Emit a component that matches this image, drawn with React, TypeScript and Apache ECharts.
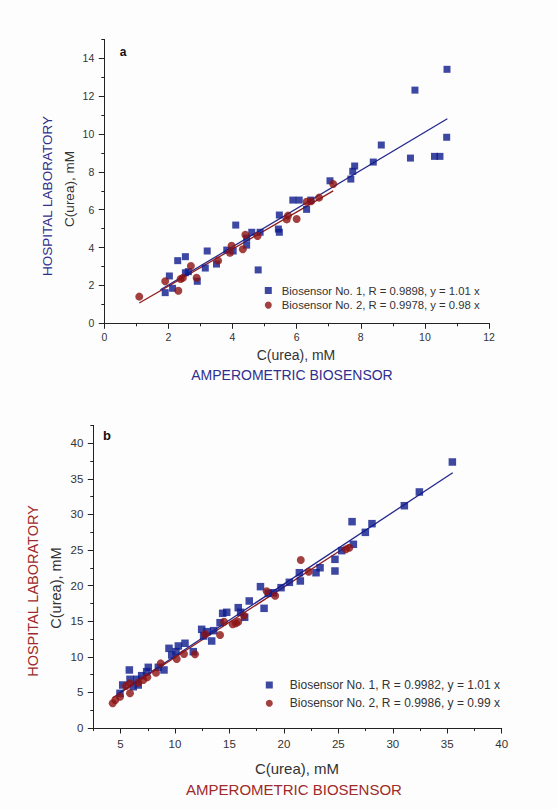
import React, { useEffect, useRef } from "react";
import * as echarts from "echarts";

// ---- Data ----
// Panel a
const blueA: number[][] = [
  [1.9, 1.62], [2.03, 2.5], [2.13, 1.85], [2.29, 3.31], [2.53, 3.52], [2.53, 2.67],
  [2.62, 2.73], [2.9, 2.22], [3.15, 2.92], [3.21, 3.82], [3.5, 3.13], [3.82, 3.87],
  [4.02, 3.82], [4.1, 5.19], [4.44, 4.13], [4.44, 4.5], [4.6, 4.81], [4.8, 2.82],
  [4.86, 4.81], [5.43, 4.98], [5.46, 4.81], [5.46, 5.72], [5.88, 6.51], [6.08, 6.51],
  [6.31, 6.02], [6.44, 6.51], [7.04, 7.53], [7.69, 7.62], [7.75, 8.03], [7.81, 8.31],
  [8.39, 8.52], [8.64, 9.42], [9.55, 8.73], [9.69, 12.32], [10.3, 8.82], [10.47, 8.82],
  [10.68, 9.83], [10.69, 13.42],
];
const redA: number[][] = [
  [1.09, 1.41], [1.9, 2.22], [2.31, 1.72], [2.38, 2.34], [2.45, 2.4], [2.7, 3.03],
  [2.88, 2.41], [3.55, 3.31], [3.92, 3.73], [3.97, 4.1], [4.32, 3.91], [4.4, 4.68],
  [4.78, 4.61], [5.73, 5.69], [5.69, 5.49], [6.0, 5.51], [6.31, 6.42], [6.45, 6.45],
  [6.7, 6.64], [7.14, 7.36],
];
const fitBlueA: number[][] = [[1.75, 1.77], [10.7, 10.81]];
const fitRedA: number[][] = [[1.09, 1.07], [7.14, 7.0]];

// Panel b
const blueB: number[][] = [
  [4.95, 4.87], [5.2, 6.04], [5.81, 8.15], [5.87, 6.84], [6.17, 5.8], [6.49, 6.84],
  [6.63, 6.04], [6.94, 7.35], [7.4, 7.91], [7.55, 8.52], [8.47, 8.52], [8.99, 8.15],
  [9.45, 11.19], [9.7, 10.25], [10.09, 10.72], [10.31, 11.52], [10.92, 11.9], [11.68, 10.72],
  [12.45, 13.86], [12.63, 12.92], [12.95, 13.53], [13.37, 12.22], [13.55, 13.67], [14.14, 14.79],
  [14.38, 16.11], [14.75, 16.25], [15.81, 16.9], [16.03, 16.25], [16.4, 15.55], [16.82, 17.84],
  [17.85, 19.85], [18.18, 16.81], [18.57, 18.91], [19.03, 19.0], [19.74, 19.71], [20.5, 20.46],
  [21.42, 21.81], [21.51, 20.65], [22.95, 21.81], [23.32, 22.51], [24.69, 23.69], [24.69, 22.05],
  [25.31, 24.91], [26.38, 25.8], [26.26, 28.98], [27.48, 27.48], [28.09, 28.7], [31.06, 31.22],
  [32.44, 33.15], [35.47, 37.36],
];
const redB: number[][] = [
  [4.28, 3.47], [4.52, 3.93], [4.95, 4.4], [5.5, 5.9], [5.87, 4.87], [5.87, 6.27],
  [6.63, 6.36], [7.09, 6.74], [7.46, 7.12], [8.26, 7.77], [8.69, 9.08], [10.16, 9.69],
  [10.83, 10.39], [11.84, 10.35], [12.76, 13.16], [14.14, 13.06], [14.5, 14.93], [15.3, 14.56],
  [15.6, 14.7], [15.81, 14.93], [16.34, 15.77], [18.42, 19.2], [19.2, 18.58], [21.55, 23.6],
  [22.28, 21.95], [25.7, 25.1], [26.0, 25.32],
];
const fitBlueB: number[][] = [[4.7, 4.75], [35.5, 35.86]];
const fitRedB: number[][] = [[4.28, 4.24], [26.0, 25.74]];

// Axis ticks
const xMajorA = [0, 2, 4, 6, 8, 10, 12];
const yMajorA = [0, 2, 4, 6, 8, 10, 12, 14];
const xMajorB = [5, 10, 15, 20, 25, 30, 35, 40];
const yMajorB = [0, 5, 10, 15, 20, 25, 30, 35, 40];

const nameBlueA = "Biosensor No. 1, R = 0.9898, y = 1.01 x";
const nameRedA = "Biosensor No. 2, R = 0.9978, y = 0.98 x";
const nameBlueB = "Biosensor No. 1, R = 0.9982, y = 1.01 x";
const nameRedB = "Biosensor No. 2, R = 0.9986, y = 0.99 x";

const FONT = "'Liberation Sans', Arial, sans-serif";
const BLUE = "#0d1a8c";
const RED = "#8c1212";
const BLUE_LINE = "#23288a";
const RED_LINE = "#8e1d1d";
const BLUE_TXT = "#2f2f8f";
const RED_TXT = "#9e2a2a";
const AX = "#222";

function mainAxis(grid: number, min: number, max: number, step: number, majors: number[], fs: number, margin: number) {
  return {
    type: "value",
    gridIndex: grid,
    min,
    max,
    interval: step,
    axisLine: { show: true, onZero: false, lineStyle: { color: AX, width: 1 } },
    axisTick: { show: true, length: 3, lineStyle: { color: AX, width: 1 } },
    axisLabel: {
      show: true,
      color: "#333",
      fontSize: fs,
      fontFamily: FONT,
      margin,
      hideOverlap: false,
      showMinLabel: true,
      showMaxLabel: true,
      formatter: (v: number) => (majors.indexOf(v) >= 0 ? String(v) : ""),
    },
    splitLine: { show: false },
  };
}

function overlayAxis(grid: number, min: number, max: number, step: number, majors: number[]) {
  return {
    type: "value",
    gridIndex: grid,
    min,
    max,
    interval: step,
    offset: 0,
    axisLine: { show: false, onZero: false },
    axisTick: { show: true, length: 5.5, customValues: majors, lineStyle: { color: AX, width: 1 } },
    axisLabel: { show: false },
    splitLine: { show: false },
  };
}

export default function App() {
  const ref = useRef<HTMLDivElement>(null);
  useEffect(() => {
    if (!ref.current) return;
    const chart = echarts.init(ref.current, undefined, { renderer: "svg" });
    const option: any = {
      animation: false,
      backgroundColor: "#fdfdfd",
      grid: [
        { left: 104.3, top: 39.4, width: 384.7, height: 283.9, containLabel: false },
        { left: 93.3, top: 425.4, width: 408.4, height: 302.6, containLabel: false },
      ],
      xAxis: [
        { ...mainAxis(0, 0, 12, 1, xMajorA, 10.5, 8), position: "bottom" },
        { ...overlayAxis(0, 0, 12, 1, xMajorA), position: "bottom" },
        { ...mainAxis(1, 2.5, 40, 2.5, xMajorB, 11.5, 10), position: "bottom" },
        { ...overlayAxis(1, 2.5, 40, 2.5, xMajorB), position: "bottom" },
      ],
      yAxis: [
        { ...mainAxis(0, 0, 15, 1, yMajorA, 10.5, 10), position: "left" },
        { ...overlayAxis(0, 0, 15, 1, yMajorA), position: "left" },
        { ...mainAxis(1, 0, 42.5, 2.5, yMajorB, 11.5, 10), position: "left" },
        { ...overlayAxis(1, 0, 42.5, 2.5, yMajorB), position: "left" },
      ],
      legend: [
        {
          data: [
            { name: nameBlueA, icon: "rect" },
            { name: nameRedA, icon: "circle" },
          ],
          orient: "vertical",
          left: 264.8,
          top: 284.5,
          itemWidth: 7,
          itemHeight: 7,
          itemGap: 2.6,
          padding: 0,
          selectedMode: false,
          textStyle: { fontSize: 11.3, fontFamily: FONT, color: "#333", lineHeight: 12, padding: [0, 0, 0, 5] },
        },
        {
          data: [
            { name: nameBlueB, icon: "rect" },
            { name: nameRedB, icon: "circle" },
          ],
          orient: "vertical",
          left: 265.8,
          top: 678.5,
          itemWidth: 7,
          itemHeight: 7,
          itemGap: 5.3,
          padding: 0,
          selectedMode: false,
          textStyle: { fontSize: 12, fontFamily: FONT, color: "#333", lineHeight: 13, padding: [0, 0, 0, 12] },
        },
      ],
      series: [
        {
          type: "line", xAxisIndex: 0, yAxisIndex: 0, data: fitBlueA, symbol: "none",
          lineStyle: { color: BLUE_LINE, width: 1.3 }, silent: true, z: 1,
        },
        {
          type: "line", xAxisIndex: 0, yAxisIndex: 0, data: fitRedA, symbol: "none",
          lineStyle: { color: RED_LINE, width: 1.3 }, silent: true, z: 1,
        },
        {
          name: nameBlueA, type: "scatter", xAxisIndex: 0, yAxisIndex: 0, data: blueA,
          symbol: "rect", symbolSize: 7, itemStyle: { color: BLUE }, z: 2,
        },
        {
          name: nameRedA, type: "scatter", xAxisIndex: 0, yAxisIndex: 0, data: redA,
          symbol: "circle", symbolSize: 8, itemStyle: { color: RED }, z: 3,
        },
        {
          type: "line", xAxisIndex: 2, yAxisIndex: 2, data: fitBlueB, symbol: "none",
          lineStyle: { color: BLUE_LINE, width: 1.3 }, silent: true, z: 1,
        },
        {
          type: "line", xAxisIndex: 2, yAxisIndex: 2, data: fitRedB, symbol: "none",
          lineStyle: { color: RED_LINE, width: 1.3 }, silent: true, z: 1,
        },
        {
          name: nameBlueB, type: "scatter", xAxisIndex: 2, yAxisIndex: 2, data: blueB,
          symbol: "rect", symbolSize: 7.5, itemStyle: { color: BLUE }, z: 2,
        },
        {
          name: nameRedB, type: "scatter", xAxisIndex: 2, yAxisIndex: 2, data: redB,
          symbol: "circle", symbolSize: 8, itemStyle: { color: RED }, z: 3,
        },
      ],
      graphic: [
        { type: "text", x: 123, y: 52, style: { text: "a", font: `bold 12px ${FONT}`, fill: "#111", align: "center", verticalAlign: "middle" } },
        { type: "text", x: 107, y: 435, style: { text: "b", font: `bold 13px ${FONT}`, fill: "#111", align: "center", verticalAlign: "middle" } },
        // panel a axis titles
        { type: "text", x: 47, y: 196, rotation: Math.PI / 2, style: { text: "HOSPITAL LABORATORY", font: `13.5px ${FONT}`, fill: BLUE_TXT, align: "center", verticalAlign: "middle" } },
        { type: "text", x: 69, y: 189, rotation: Math.PI / 2, style: { text: "C(urea), mM", font: `13.5px ${FONT}`, fill: "#333", align: "center", verticalAlign: "middle" } },
        { type: "text", x: 296, y: 355, style: { text: "C(urea), mM", font: `14px ${FONT}`, fill: "#333", align: "center", verticalAlign: "middle" } },
        { type: "text", x: 292, y: 375, style: { text: "AMPEROMETRIC BIOSENSOR", font: `14px ${FONT}`, fill: BLUE_TXT, align: "center", verticalAlign: "middle" } },
        // panel b axis titles
        { type: "text", x: 33, y: 591, rotation: Math.PI / 2, style: { text: "HOSPITAL LABORATORY", font: `14.5px ${FONT}`, fill: RED_TXT, align: "center", verticalAlign: "middle" } },
        { type: "text", x: 56, y: 588, rotation: Math.PI / 2, style: { text: "C(urea), mM", font: `14.5px ${FONT}`, fill: "#333", align: "center", verticalAlign: "middle" } },
        { type: "text", x: 297, y: 768, style: { text: "C(urea), mM", font: `15px ${FONT}`, fill: "#333", align: "center", verticalAlign: "middle" } },
        { type: "text", x: 294, y: 789, style: { text: "AMPEROMETRIC BIOSENSOR", font: `15px ${FONT}`, fill: RED_TXT, align: "center", verticalAlign: "middle" } },
      ],
    };
    chart.setOption(option);
    return () => chart.dispose();
  }, []);
  return <div ref={ref} style={{ position: "fixed", left: 0, top: 0, width: 557, height: 809 }} />;
}
